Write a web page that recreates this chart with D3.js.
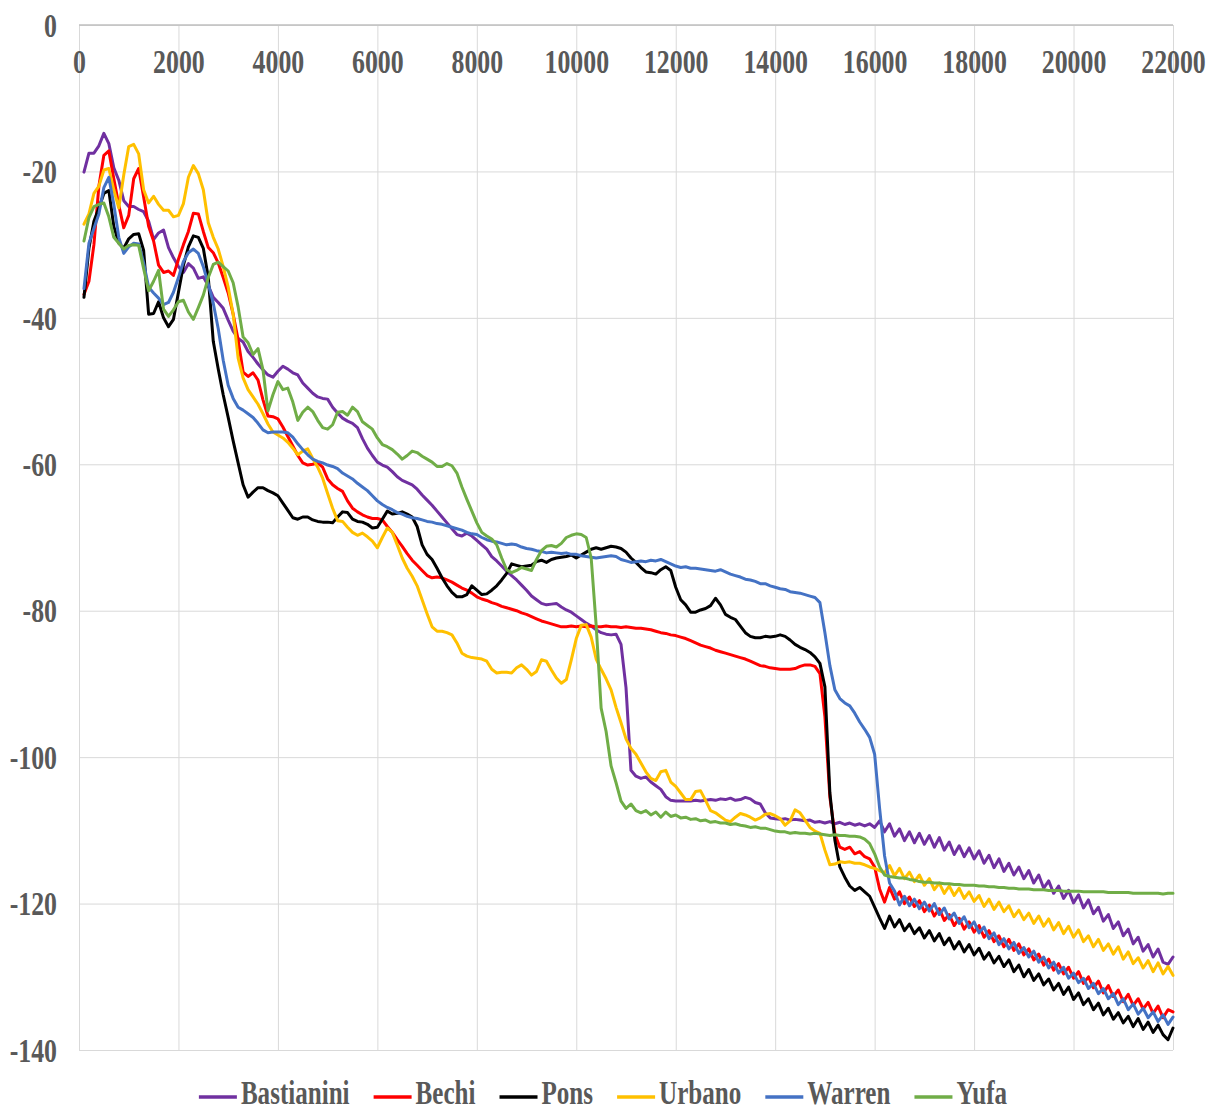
<!DOCTYPE html>
<html><head><meta charset="utf-8">
<script src="https://cdn.jsdelivr.net/npm/d3@7"></script>
<style>body{margin:0;background:#fff}</style>
</head><body><svg id="c" width="1209" height="1110"></svg>
<script>
const xTicks = [0,2000,4000,6000,8000,10000,12000,14000,16000,18000,20000,22000];
const yTicks = [0,-20,-40,-60,-80,-100,-120,-140];
const seriesNames = ["Bastianini","Bechi","Pons","Urbano","Warren","Yufa"];
const seriesColors = ["#7030A0","#FF0000","#000000","#FFC000","#4472C4","#70AD47"];
const xValues = d3.range(100, 22001, 100);

const bastianini = [
-20.1,-17.5,-17.5,-16.5,-14.8,-16.2,-19.5,-21.2,-24.0,-24.8,
-24.8,-25.2,-25.5,-26.8,-29.3,-28.4,-28.0,-30.4,-31.8,-33.0,
-33.8,-32.6,-33.2,-34.6,-34.4,-35.6,-37.2,-37.9,-38.7,-40.3,
-41.8,-42.8,-43.3,-44.6,-45.4,-46.3,-47.1,-47.8,-48.1,-47.3,
-46.6,-47.0,-47.5,-47.8,-48.9,-49.6,-50.3,-50.8,-51.0,-51.1,
-52.2,-53.0,-53.7,-54.1,-54.4,-55.0,-56.5,-57.8,-58.8,-59.7,
-60.1,-60.4,-61.0,-61.7,-62.2,-62.5,-62.8,-63.4,-64.2,-64.9,
-65.6,-66.4,-67.2,-68.0,-68.8,-69.6,-69.8,-69.4,-69.8,-70.4,
-71.0,-71.6,-72.6,-73.2,-73.9,-74.6,-75.2,-75.8,-76.5,-77.2,
-78.0,-78.5,-79.0,-79.2,-79.1,-79.0,-79.5,-79.9,-80.2,-80.7,
-81.2,-81.7,-82.1,-82.6,-83.0,-83.2,-83.3,-83.2,-84.6,-90.5,
-101.8,-102.6,-102.9,-102.7,-103.4,-103.9,-104.4,-105.4,-105.9,-106.0,
-106.0,-106.0,-106.0,-105.9,-106.0,-105.9,-105.8,-105.9,-105.7,-105.8,
-105.6,-105.9,-105.8,-105.5,-105.7,-106.2,-106.4,-107.6,-108.3,-108.4,
-108.5,-108.4,-108.6,-108.5,-108.6,-108.7,-108.6,-108.9,-108.8,-109.0,
-108.8,-109.1,-108.9,-109.2,-109.0,-109.3,-109.1,-109.4,-109.1,-109.6,
-108.7,-110.2,-109.1,-110.8,-109.8,-111.4,-110.2,-111.7,-110.4,-111.9,
-110.7,-112.3,-111.0,-112.7,-111.6,-113.3,-112.1,-113.6,-112.4,-113.9,
-112.8,-114.5,-113.4,-115.1,-113.9,-115.6,-114.5,-116.1,-115.0,-116.6,
-115.5,-117.2,-116.1,-117.9,-116.9,-118.6,-117.6,-119.3,-118.2,-119.9,
-118.8,-120.6,-119.5,-121.4,-120.5,-122.4,-121.5,-123.4,-122.5,-124.4,
-123.5,-125.5,-124.6,-126.5,-125.6,-127.3,-126.2,-128.0,-128.3,-127.3
];

const bechi = [
-36.8,-35.0,-30.0,-22.0,-17.8,-17.2,-21.0,-24.6,-27.7,-26.0,
-21.0,-19.6,-23.5,-27.5,-29.5,-32.8,-33.8,-33.6,-34.2,-32.0,
-30.0,-28.2,-25.7,-25.8,-28.2,-30.4,-31.1,-32.5,-34.5,-36.6,
-39.5,-43.0,-47.4,-48.0,-47.5,-48.5,-51.2,-53.4,-53.5,-53.8,
-54.9,-56.2,-57.5,-58.8,-59.8,-60.1,-60.0,-59.8,-60.4,-62.0,
-62.8,-63.3,-63.7,-65.0,-66.0,-66.5,-66.9,-67.2,-67.4,-67.4,
-67.6,-68.5,-69.3,-70.3,-71.2,-72.2,-73.1,-73.8,-74.5,-75.2,
-75.5,-75.4,-75.5,-75.8,-76.1,-76.5,-76.9,-77.2,-77.6,-78.1,
-78.4,-78.6,-78.9,-79.1,-79.4,-79.6,-79.8,-80.0,-80.3,-80.5,
-80.8,-81.1,-81.4,-81.6,-81.8,-82.0,-82.2,-82.2,-82.1,-82.2,
-82.1,-82.2,-82.1,-82.2,-82.2,-82.1,-82.2,-82.2,-82.3,-82.2,
-82.3,-82.4,-82.4,-82.5,-82.6,-82.8,-83.0,-83.1,-83.3,-83.4,
-83.6,-83.8,-84.1,-84.4,-84.7,-84.9,-85.1,-85.4,-85.6,-85.8,
-86.0,-86.2,-86.4,-86.6,-86.9,-87.2,-87.5,-87.6,-87.8,-87.9,
-88.0,-88.0,-88.0,-87.9,-87.6,-87.4,-87.4,-87.6,-88.6,-94.5,
-105.5,-110.5,-112.3,-112.6,-112.3,-113.2,-112.9,-113.6,-113.9,-115.0,
-118.0,-119.8,-117.8,-119.4,-118.4,-120.0,-119.1,-120.4,-119.6,-121.1,
-120.2,-121.7,-120.7,-122.3,-121.5,-123.0,-122.0,-123.5,-122.5,-123.9,
-123.0,-124.6,-123.7,-125.2,-124.4,-125.9,-124.9,-126.4,-125.5,-127.0,
-126.2,-127.7,-126.9,-128.4,-127.6,-129.1,-128.2,-129.6,-128.7,-130.2,
-129.3,-130.9,-130.0,-131.5,-130.6,-132.2,-131.2,-132.7,-131.8,-133.4,
-132.4,-133.9,-133.0,-134.4,-133.5,-135.0,-134.0,-135.6,-134.5,-134.8
];

const pons = [
-37.2,-30.5,-26.8,-25.0,-23.0,-22.6,-27.5,-29.8,-30.5,-29.2,
-28.6,-28.5,-30.8,-39.5,-39.4,-37.8,-40.0,-41.2,-40.2,-36.5,
-32.8,-30.3,-28.8,-29.0,-30.5,-34.5,-43.2,-47.0,-50.5,-53.6,
-56.8,-59.8,-62.8,-64.5,-63.8,-63.2,-63.2,-63.6,-63.9,-64.3,
-65.3,-66.3,-67.3,-67.5,-67.2,-67.2,-67.6,-67.8,-67.9,-67.9,
-68.0,-67.2,-66.5,-66.6,-67.5,-67.8,-67.9,-68.2,-68.7,-68.6,
-67.5,-66.4,-66.8,-66.7,-66.5,-66.8,-67.2,-68.5,-71.0,-72.3,
-73.0,-74.2,-75.5,-76.6,-77.5,-78.1,-78.1,-77.8,-76.6,-77.2,
-77.8,-77.7,-77.2,-76.6,-75.8,-74.9,-73.6,-73.8,-74.0,-73.9,
-73.8,-73.3,-73.1,-73.4,-73.0,-72.8,-72.7,-72.6,-72.4,-72.8,
-72.4,-72.0,-71.6,-71.4,-71.6,-71.4,-71.2,-71.3,-71.5,-72.0,
-72.8,-73.4,-74.1,-74.7,-74.8,-75.0,-74.4,-74.0,-74.5,-76.8,
-78.5,-79.2,-80.2,-80.2,-79.9,-79.7,-79.3,-78.3,-79.2,-80.5,
-80.9,-81.2,-82.1,-83.0,-83.5,-83.7,-83.7,-83.5,-83.6,-83.5,
-83.3,-83.5,-84.0,-84.6,-85.0,-85.3,-85.7,-86.3,-87.2,-90.4,
-104.9,-111.3,-115.0,-116.4,-117.6,-118.2,-117.8,-118.4,-119.0,-120.5,
-122.0,-123.4,-121.7,-123.2,-122.2,-123.7,-122.8,-124.1,-123.3,-124.7,
-123.7,-125.1,-124.1,-125.6,-124.7,-126.2,-125.2,-126.6,-125.6,-127.0,
-126.1,-127.6,-126.7,-128.1,-127.2,-128.6,-127.7,-129.3,-128.4,-130.0,
-129.0,-130.5,-129.6,-131.1,-130.3,-131.8,-130.9,-132.4,-131.4,-133.1,
-132.2,-133.8,-133.0,-134.5,-133.6,-135.2,-134.3,-135.8,-134.9,-136.3,
-135.4,-136.8,-135.7,-137.2,-136.2,-137.6,-136.6,-137.9,-138.6,-137.0
];

const urbano = [
-27.2,-25.8,-23.0,-22.0,-19.8,-19.6,-22.5,-25.0,-20.5,-16.6,
-16.3,-17.6,-22.5,-24.3,-23.4,-24.5,-25.3,-25.3,-26.2,-26.0,
-24.4,-20.8,-19.2,-20.3,-22.5,-27.0,-29.0,-30.6,-33.0,-35.8,
-39.5,-45.5,-48.2,-49.8,-50.8,-51.8,-53.1,-54.5,-55.6,-56.0,
-56.4,-57.0,-57.8,-58.7,-58.2,-57.9,-59.2,-60.4,-61.9,-64.0,
-66.0,-67.7,-67.8,-68.6,-69.3,-69.7,-69.4,-69.9,-70.5,-71.4,
-70.0,-68.7,-69.3,-71.0,-72.8,-74.2,-75.3,-76.6,-78.5,-80.4,
-82.2,-82.8,-82.8,-83.0,-83.3,-84.4,-85.8,-86.2,-86.4,-86.5,
-86.6,-86.9,-88.0,-88.5,-88.4,-88.4,-88.5,-87.8,-87.4,-88.0,
-88.8,-88.3,-86.7,-86.9,-88.1,-89.2,-89.9,-89.4,-86.7,-83.8,
-82.0,-81.9,-83.6,-86.6,-88.0,-89.3,-90.8,-93.2,-95.3,-97.5,
-98.8,-99.6,-100.8,-102.0,-102.9,-103.2,-102.0,-101.8,-103.4,-104.0,
-104.9,-105.8,-105.8,-104.7,-104.6,-105.9,-107.3,-107.6,-108.1,-108.6,
-108.8,-108.2,-107.7,-107.9,-108.2,-108.6,-108.3,-107.8,-107.7,-108.0,
-108.4,-109.3,-108.7,-107.2,-107.6,-108.6,-109.6,-110.1,-110.4,-112.7,
-114.7,-114.6,-114.3,-114.4,-114.3,-114.5,-114.5,-114.7,-115.0,-115.2,
-115.5,-115.8,-114.8,-116.2,-115.2,-116.6,-115.7,-117.0,-116.1,-117.5,
-116.6,-118.1,-117.2,-118.6,-117.6,-118.9,-117.9,-119.3,-118.4,-119.7,
-118.9,-120.4,-119.4,-120.8,-119.8,-121.1,-120.3,-121.8,-120.9,-122.2,
-121.3,-122.7,-121.7,-123.1,-122.1,-123.6,-122.6,-124.1,-123.1,-124.6,
-123.6,-125.2,-124.4,-125.9,-124.9,-126.4,-125.5,-126.9,-125.9,-127.6,
-126.6,-128.2,-127.4,-128.8,-127.8,-129.3,-128.1,-129.6,-128.6,-129.8
];

const warren = [
-36.0,-29.8,-27.8,-25.8,-22.2,-20.8,-24.5,-29.0,-31.2,-30.3,
-29.8,-29.9,-32.5,-35.8,-36.6,-37.3,-38.2,-37.9,-36.5,-34.5,
-32.3,-31.1,-30.6,-31.2,-33.0,-35.4,-38.0,-41.5,-45.8,-49.2,
-51.0,-52.2,-52.6,-53.1,-53.6,-54.4,-55.3,-55.7,-55.6,-55.6,
-55.6,-55.7,-56.3,-57.2,-58.0,-58.7,-59.3,-59.6,-59.8,-60.1,
-60.3,-60.6,-61.2,-61.6,-62.0,-62.6,-63.1,-63.6,-64.3,-65.0,
-65.5,-65.9,-66.2,-66.6,-66.8,-67.1,-67.3,-67.4,-67.6,-67.8,
-67.9,-68.1,-68.2,-68.4,-68.6,-68.8,-69.0,-69.3,-69.5,-69.6,
-70.0,-70.3,-70.5,-70.6,-70.8,-71.0,-70.9,-71.0,-71.3,-71.5,
-71.6,-71.8,-71.9,-72.1,-72.0,-72.1,-72.2,-72.1,-72.3,-72.3,
-72.5,-72.6,-72.7,-72.8,-72.7,-72.6,-72.5,-72.6,-73.0,-73.2,
-73.4,-73.3,-73.2,-73.3,-73.1,-73.2,-73.0,-73.3,-73.6,-73.9,
-74.1,-74.0,-74.2,-74.2,-74.3,-74.4,-74.5,-74.6,-74.4,-74.7,
-75.0,-75.2,-75.4,-75.7,-75.8,-76.0,-76.3,-76.3,-76.6,-76.8,
-77.0,-77.1,-77.4,-77.5,-77.6,-77.8,-78.0,-78.2,-78.9,-83.0,
-87.5,-90.8,-92.0,-92.6,-93.0,-94.0,-95.2,-96.2,-97.3,-99.6,
-107.0,-113.5,-117.2,-118.3,-120.2,-119.0,-120.3,-119.4,-120.7,-119.8,
-121.0,-120.0,-121.5,-120.6,-122.1,-121.3,-122.7,-121.8,-123.3,-122.5,
-124.0,-123.2,-124.8,-124.0,-125.6,-124.8,-126.2,-125.3,-126.8,-126.0,
-127.3,-126.5,-128.0,-127.3,-128.8,-128.0,-129.5,-128.7,-130.2,-129.5,
-130.8,-130.2,-131.6,-130.9,-132.3,-131.6,-133.0,-132.3,-133.8,-133.0,
-134.5,-133.7,-135.1,-134.3,-135.6,-134.8,-136.1,-135.2,-136.5,-135.5
];

const yufa = [
-29.5,-26.3,-24.8,-24.5,-24.3,-26.2,-29.0,-29.8,-30.6,-30.1,
-30.0,-30.1,-33.3,-36.3,-35.0,-33.5,-38.8,-39.8,-38.9,-37.8,
-37.6,-39.2,-40.2,-38.6,-36.9,-34.5,-32.7,-32.4,-33.0,-33.6,
-35.2,-38.5,-42.6,-43.4,-45.0,-44.2,-47.1,-52.7,-50.5,-48.7,
-49.8,-49.6,-51.5,-54.0,-52.9,-52.2,-52.8,-54.0,-55.0,-55.2,
-54.6,-52.9,-52.8,-53.3,-52.2,-52.8,-54.2,-54.7,-55.2,-56.4,
-57.3,-57.6,-58.0,-58.6,-59.3,-58.8,-58.2,-58.4,-58.9,-59.3,
-59.7,-60.3,-60.3,-59.9,-60.2,-61.2,-63.1,-64.8,-66.4,-68.0,
-69.3,-69.8,-70.2,-71.0,-72.8,-74.4,-74.8,-74.5,-74.1,-74.3,
-74.5,-73.0,-71.8,-71.2,-71.1,-71.3,-70.8,-70.0,-69.7,-69.5,
-69.6,-70.0,-72.8,-82.0,-93.3,-96.5,-101.2,-103.5,-106.0,-107.0,
-106.4,-107.3,-107.6,-107.3,-107.9,-107.5,-108.2,-107.5,-108.1,-107.9,
-108.3,-108.2,-108.5,-108.4,-108.7,-108.6,-108.9,-108.8,-109.0,-109.0,
-109.2,-109.1,-109.3,-109.4,-109.6,-109.5,-109.7,-109.7,-109.9,-110.1,
-110.2,-110.2,-110.4,-110.3,-110.4,-110.4,-110.5,-110.4,-110.5,-110.6,
-110.7,-110.6,-110.7,-110.7,-110.8,-110.8,-110.9,-111.2,-111.8,-113.2,
-115.0,-116.1,-116.3,-116.4,-116.5,-116.5,-116.7,-116.8,-117.0,-117.1,
-117.1,-117.2,-117.2,-117.3,-117.3,-117.4,-117.4,-117.5,-117.5,-117.5,
-117.6,-117.6,-117.7,-117.7,-117.8,-117.8,-117.9,-117.9,-118.0,-118.0,
-118.0,-118.1,-118.1,-118.1,-118.2,-118.2,-118.2,-118.3,-118.3,-118.3,
-118.3,-118.4,-118.4,-118.4,-118.4,-118.4,-118.5,-118.5,-118.5,-118.5,
-118.5,-118.6,-118.6,-118.6,-118.6,-118.6,-118.6,-118.7,-118.6,-118.6
];

const seriesValues = [bastianini, bechi, pons, urbano, warren, yufa];

const FONT = "'Liberation Serif','Times New Roman',serif";
const SX = 0.76;
const svg = d3.select("#c");
const x = d3.scaleLinear().domain([0, 22000]).range([79, 1173]);
const y = d3.scaleLinear().domain([0, -140]).range([25, 1050]);
const fmt = d => String(d);

// vertical gridlines
svg.append("g").attr("transform", "translate(0,25)")
  .call(d3.axisBottom(x).tickValues(xTicks).tickSize(1025).tickFormat(""))
  .call(g => g.select(".domain").remove())
  .call(g => g.selectAll("line").attr("stroke", "#d9d9d9").attr("stroke-width", 1));

// horizontal gridlines
svg.append("g").attr("transform", "translate(79,0)")
  .call(d3.axisRight(y).tickValues(yTicks).tickSize(1094).tickFormat(""))
  .call(g => g.select(".domain").remove())
  .call(g => g.selectAll("line").attr("stroke", "#d9d9d9").attr("stroke-width", 1));

// top axis line
svg.append("line").attr("x1", x(0)).attr("x2", x(22000)).attr("y1", y(0)).attr("y2", y(0))
  .attr("stroke", "#bfbfbf").attr("stroke-width", 1.3);

// x labels (below top axis)
svg.append("g").attr("transform", "translate(0,25)")
  .call(d3.axisBottom(x).tickValues(xTicks).tickSize(0).tickPadding(0).tickFormat(fmt))
  .call(g => g.select(".domain").remove())
  .call(g => g.selectAll("text")
    .attr("y", 48).attr("dy", null)
    .attr("fill", "#595959").attr("font-family", FONT).attr("font-weight", "bold")
    .attr("font-size", 34).attr("transform", `scale(${SX},1)`));

// y labels
svg.append("g").attr("transform", "translate(79,0)")
  .call(d3.axisLeft(y).tickValues(yTicks).tickSize(0).tickPadding(22).tickFormat(fmt))
  .call(g => g.select(".domain").remove())
  .call(g => g.selectAll("text")
    .attr("fill", "#595959").attr("font-family", FONT).attr("font-weight", "bold")
    .attr("font-size", 34).attr("dy", "0.33em")
    .attr("x", -22 / SX).attr("transform", `scale(${SX},1)`));

// series lines
const line = d3.line().x((d, i) => x(xValues[i])).y(d => y(d));
seriesValues.forEach((vals, k) => {
  svg.append("path").datum(vals)
    .attr("d", line)
    .attr("fill", "none")
    .attr("stroke", seriesColors[k])
    .attr("stroke-width", 3)
    .attr("stroke-linejoin", "round")
    .attr("stroke-linecap", "round");
});

// legend
const lg = svg.append("g");
const items = [];
let total = 0;
const LINE_W = 38, GAP_T = 4, GAP_I = 24;
seriesNames.forEach((n, k) => {
  const t = lg.append("text").text(n)
    .attr("font-family", FONT).attr("font-weight", "bold").attr("font-size", 33)
    .attr("fill", "#595959");
  const w = t.node().getComputedTextLength() * SX;
  items.push({ t, w });
  total += LINE_W + GAP_T + w + (k ? GAP_I : 0);
});
let cx = 603 - total / 2;
items.forEach((it, k) => {
  if (k) cx += GAP_I;
  lg.append("line").attr("x1", cx).attr("x2", cx + LINE_W).attr("y1", 1097).attr("y2", 1097)
    .attr("stroke", seriesColors[k]).attr("stroke-width", 3.5);
  cx += LINE_W + GAP_T;
  it.t.attr("transform", `translate(${cx},1104) scale(${SX},1)`);
  cx += it.w;
});
</script></body></html>
